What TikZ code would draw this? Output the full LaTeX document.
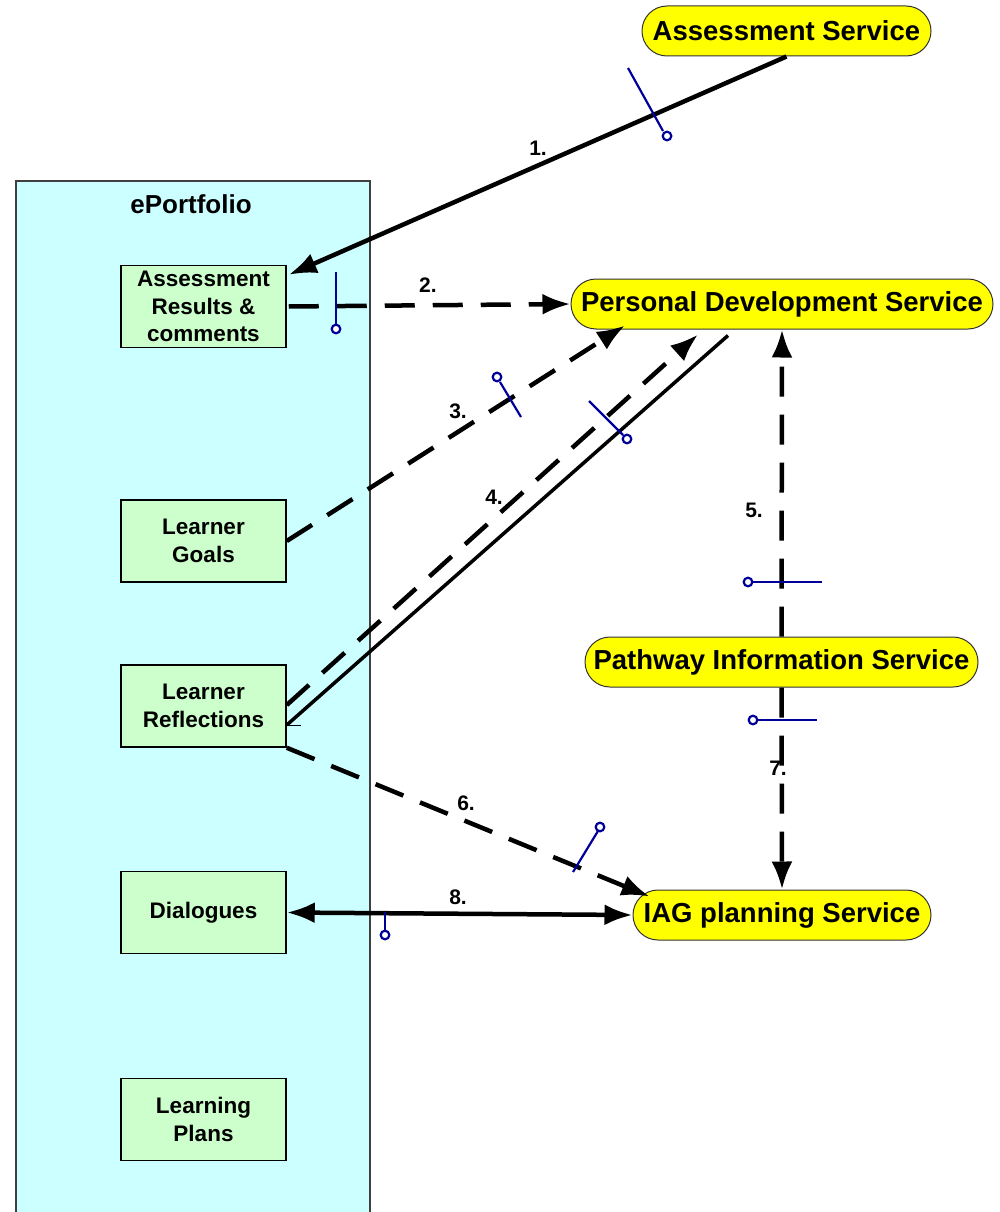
\documentclass[tikz,border=0pt]{standalone}
\usepackage{fontspec}
\setmainfont{Liberation Sans}
\usetikzlibrary{arrows.meta,calc}
\definecolor{portfolio}{HTML}{CCFFFF}
\definecolor{itembox}{HTML}{CCFFCC}
\definecolor{svcfill}{HTML}{FFFF00}
\definecolor{lollicol}{HTML}{000099}

\begin{document}
\begin{tikzpicture}[x=1pt,y=-1pt,
  item/.style={draw=black, line width=1.5pt, fill=itembox, minimum width=165pt,
    minimum height=82pt, align=center, inner sep=0pt,
    font=\fontsize{22.5}{27.5}\selectfont\bfseries},
  svc/.style={draw=black!80, line width=1pt, fill=svcfill, rounded corners=25pt,
    minimum height=50pt, inner sep=0pt, font=\fontsize{27.5}{30}\selectfont\bfseries},
  conn/.style={line width=4.5pt, -{Latex[length=28pt,width=21pt]}},
  bothconn/.style={line width=4.5pt, {Latex[length=28pt,width=21pt]}-{Latex[length=28pt,width=21pt]}},
  dashconn/.style={conn, dash pattern=on 30pt off 18pt},
  num/.style={font=\fontsize{21}{24}\selectfont\bfseries, inner sep=0pt},
  lolli/.style={draw=lollicol, line width=2.2pt},
  bulb/.style={draw=lollicol, line width=2.2pt, fill=white}
]
\useasboundingbox (0,0) rectangle (1000,1212);
\clip (0,0) rectangle (1000,1212);

% ePortfolio container
\node[draw=black!75, line width=1.5pt, fill=portfolio, minimum width=354pt,
  minimum height=1050pt, anchor=north west, inner sep=0pt] (ep) at (15,180) {};
\node[font=\fontsize{26}{30}\selectfont\bfseries] (eplabel) at (191,204) {ePortfolio};

% ePortfolio items
\node[item] (ar) at (203.5,306.5) {Assessment\\Results \&\\comments};
\node[item] (lg) at (203.5,541) {Learner\\Goals};
\node[item] (lr) at (203.5,706) {Learner\\Reflections};
\node[item] (dl) at (203.5,912.5) {Dialogues};
\node[item] (lp) at (203.5,1119.5) {Learning\\Plans};

% services
\node[svc, minimum width=289pt] (as) at (786.5,31) {Assessment Service};
\node[svc, minimum width=422pt] (pds) at (782,304) {Personal Development Service};
\node[svc, minimum width=393pt] (pw) at (781.5,662) {Pathway Information Service};
\node[svc, minimum width=298pt] (iag) at (782,915) {IAG planning Service};

% connectors
\draw[conn] (as.south) -- ([shift={(2,10)}]ar.north east);
\draw[dashconn] ([shift={(2,0)}]ar.east) -- (pds.west);
\draw[dashconn] (lg.east) -- ([shift={(-157,-4)}]pds.south);
\draw[dashconn] ([shift={(0,-1)}]lr.east) -- ([shift={(-84,5)}]pds.south);
\draw[line width=3.5pt] ([shift={(0,19)}]lr.east) -- ([shift={(-54,6)}]pds.south);
\draw[line width=1pt] ([shift={(0,19)}]lr.east) -- ++(14,0);
\draw[dashconn] (pw.north) -- (pds.south);
\draw[dashconn] (pw.south) -- (iag.north);
\draw[dashconn] (lr.south east) -- ([shift={(17,7)}]iag.north west);
\draw[bothconn] (dl.east) -- (iag.west);

% connector numbers
\node[num] (n1) at (538,148) {1.};
\node[num] (n2) at (428,285) {2.};
\node[num] (n3) at (458,411) {3.};
\node[num] (n4) at (494,497) {4.};
\node[num] (n5) at (754,510) {5.};
\node[num] (n6) at (466,803) {6.};
\node[num] (n7) at (778,768) {7.};
\node[num] (n8) at (458,897) {8.};

% interface lollipops
\draw[lolli] (628,68) -- (663,131);
\draw[bulb] (667,136) circle[radius=4.3];
\draw[lolli] (336,272) -- (336,324);
\draw[bulb] (336,329) circle[radius=4.3];
\draw[lolli] (500,382) -- (521,417);
\draw[bulb] (497,377) circle[radius=4.3];
\draw[lolli] (589,401) -- (623,435);
\draw[bulb] (627,439) circle[radius=4.3];
\draw[lolli] (753,582) -- (822,582);
\draw[bulb] (748,582) circle[radius=4.3];
\draw[lolli] (758,720) -- (817,720);
\draw[bulb] (753,720) circle[radius=4.3];
\draw[lolli] (598,831) -- (573,872);
\draw[bulb] (600,827) circle[radius=4.3];
\draw[lolli] (385,912) -- (385,931);
\draw[bulb] (385,935) circle[radius=4.3];
\end{tikzpicture}
\end{document}
